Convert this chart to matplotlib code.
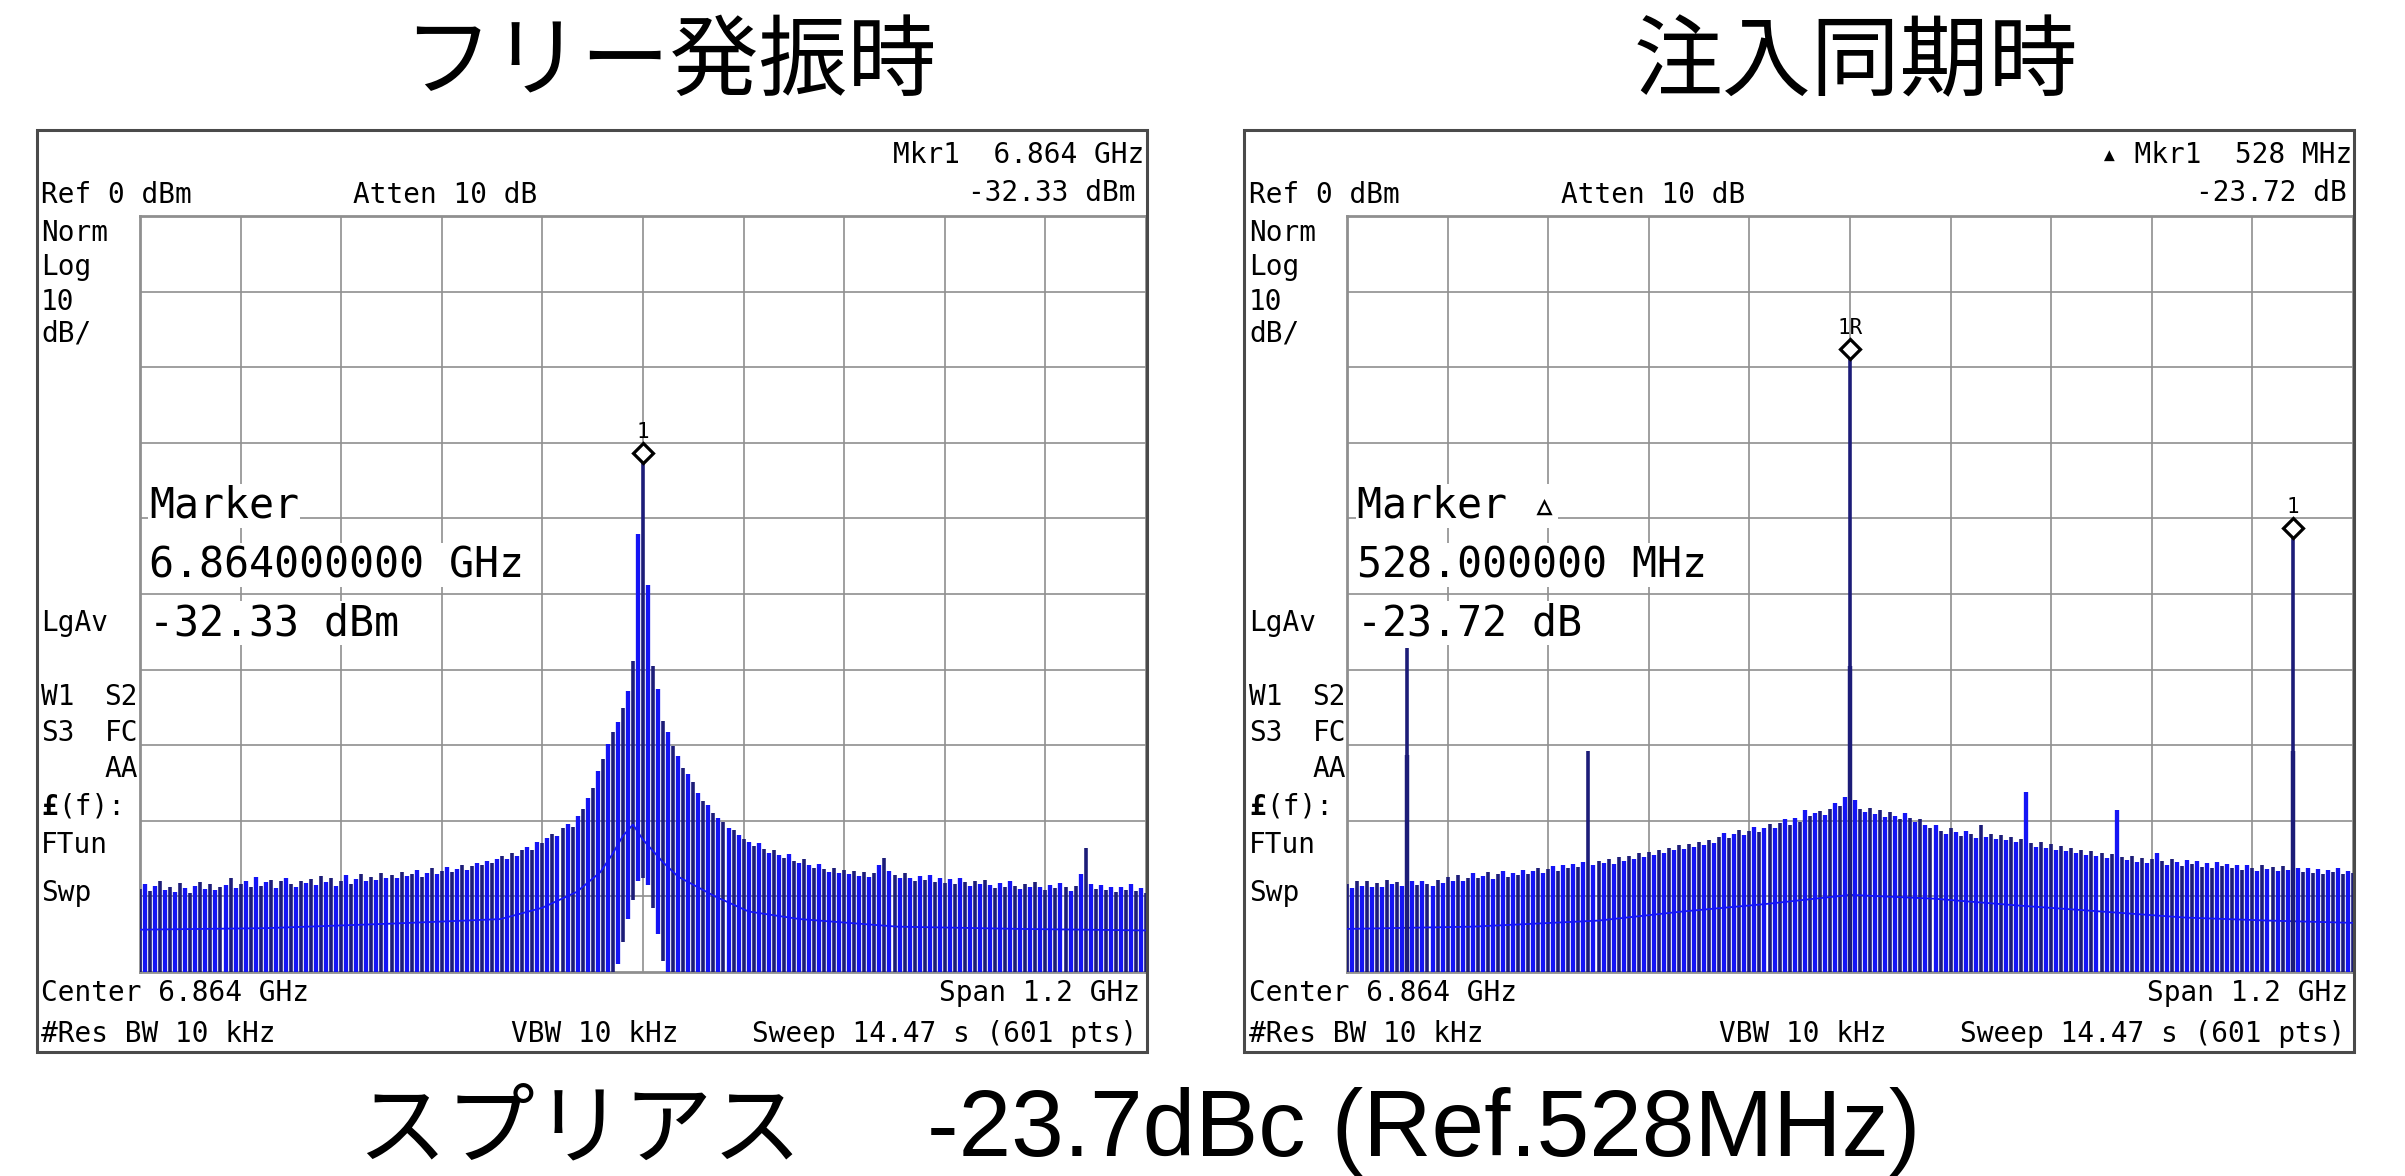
import numpy as np
import matplotlib
matplotlib.use("Agg")
import matplotlib.pyplot as plt
from matplotlib.patches import Rectangle
from matplotlib.transforms import ScaledTranslation

# ---------------- data ----------------
span_mhz = 1200          # Span 1.2 GHz, centre 6.864 GHz
n_bars = 201             # displayed sweep columns (offset -600 .. +600 MHz)
ref_dbm = 0
bottom_dbm = -100

# free-running oscillator: top of every sweep column (dBm)
free_top = [
    -89.0, -88.4, -89.3, -88.6, -87.9, -89.1, -88.7, -89.4, -88.2, -88.9, -89.5, -88.6, -88.1, -89.0, -88.4, -89.2, -88.7,
    -88.5, -87.6, -88.9, -88.3, -87.9, -88.8, -87.4, -88.6, -88.1, -87.8, -88.9, -88.0, -87.5, -88.4, -88.7, -87.9, -88.2,
    -87.7, -88.5, -87.3, -88.1, -87.6, -88.6, -87.9, -87.2, -88.3, -87.7, -87.1, -88.0, -87.4, -87.8, -86.9, -87.5, -87.2,
    -87.6, -86.8, -87.3, -87.0, -86.5, -87.4, -86.9, -86.3, -87.0, -86.6, -86.1, -86.8, -86.4, -85.9, -86.5, -86.0, -85.6,
    -85.8, -85.3, -85.6, -85.0, -84.7, -85.1, -84.2, -84.6, -83.8, -83.4, -83.9, -82.8, -83.0,
    -82.3, -81.7, -82.0, -81.0, -80.4, -80.8, -79.3, -78.5, -77.0, -75.6, -73.4, -71.8, -69.9, -68.2, -66.9, -65.1, -62.8, -58.9, -42.0, -32.33,
    -48.8, -59.5, -62.5, -66.8, -68.3, -70.1, -71.4, -73.0, -73.8, -74.9, -76.3, -77.4, -77.9, -79.0, -79.6, -80.2, -80.9, -81.2, -81.9, -82.4,
    -82.8, -83.3, -82.9, -83.7, -84.2, -83.8, -84.5, -84.9, -84.4, -85.3, -85.6, -85.1, -85.9, -86.2, -85.7, -86.4, -86.8, -86.2, -86.9, -86.5,
    -87.1, -86.6, -87.3, -86.8, -87.4, -86.9, -85.9, -84.9, -86.7, -87.2, -87.6, -86.9, -87.5, -88.0, -87.3, -87.8, -87.2, -88.1, -87.6, -88.2,
    -87.7, -88.3, -87.5, -88.1, -88.6, -87.9, -88.4, -87.8, -88.5, -88.9, -88.2, -88.7, -88.0, -88.6, -89.0, -88.3, -88.8, -88.1, -88.7, -89.2,
    -88.5, -88.9, -88.2, -88.8, -89.3, -88.6, -87.0, -83.6, -88.4, -89.0, -88.5, -89.2, -88.7, -89.4, -88.8, -89.1, -88.4, -89.3, -88.9, -89.5,
]
# lower end of every column (below screen = -100); near the carrier it lifts
free_bottom = [-100] * 95 + [-99, -96, -93, -90.5, -88, -87.5, -88.5, -91.5, -95, -98.5] + [-100] * 96
# lower trace envelope
free_low_mhz = [-600, -450, -300, -170, -120, -79, -51, -37, -24, -12, 0, 12, 24, 42, 86, 126, 187, 303, 450, 600]
free_low_dbm = [-94.4, -94.2, -93.6, -93.0, -91.5, -89.4, -86.8, -84.5, -82.0, -80.5, -82.5, -84.0, -85.5, -87.4, -90.0, -92.0, -93.0, -94.0, -94.3, -94.5]
free_marker = (0, -32.33)

# injection locked
lock_top = [
    -88.3, -88.9, -88.0, -88.6, -87.9, -88.7, -88.2, -88.8, -87.8, -88.4, -88.1, -88.6, -57.2, -88.0, -88.5, -87.9, -88.3,
    -88.6, -87.8, -88.2, -87.4, -87.9, -87.2, -88.0, -87.5, -86.9, -87.6, -87.3, -86.8, -87.7, -87.1, -86.6, -87.4, -86.9,
    -87.2, -86.5, -87.0, -86.7, -86.2, -86.9, -86.4, -86.0, -86.6, -85.9, -86.3, -85.7, -86.1, -85.5, -70.8, -85.9, -85.3,
    -85.6, -85.1, -85.7, -84.8, -85.3, -84.6, -85.0, -84.3, -84.8, -84.1, -84.5, -83.8, -84.3, -83.6, -83.9, -83.2, -83.7,
    -83.1, -83.5, -82.8, -83.2, -82.5, -82.9, -82.2, -81.6, -82.3, -81.8, -81.2, -81.9, -81.4, -80.8, -81.5, -80.9, -80.4,
    -81.0, -80.3, -79.8, -80.5, -79.6, -80.1, -78.6, -79.4, -79.0, -78.7, -79.2, -78.5, -77.6, -78.1, -76.9,
    -18.5,
    -77.2, -78.4, -78.9, -78.3, -79.1, -78.6, -79.5, -78.8, -79.3, -79.8, -79.0, -79.6, -80.2, -79.7, -80.5,
    -81.0, -80.6, -81.3, -81.7, -80.9, -81.5, -82.0, -81.4, -81.8, -82.3, -80.6, -82.1, -81.7, -82.4, -81.9, -82.6, -82.2, -82.8, -82.4,
    -76.2,
    -82.9, -83.4, -82.8, -83.6, -83.1, -83.9, -83.3, -84.0, -83.6, -84.2, -83.8, -84.5, -84.0, -84.7, -84.2, -84.9, -84.4,
    -78.6,
    -84.8, -85.2, -84.6, -85.4, -84.9, -85.6, -85.1, -84.3, -85.3, -85.8, -85.0, -85.5, -86.0, -85.2, -85.7, -85.3, -86.1,
    -85.6, -86.2, -85.4, -86.0, -85.7, -86.3, -85.8, -86.5, -85.9, -86.2, -86.6, -85.8, -86.4, -86.1, -86.7, -86.0, -86.5,
    -42.2,
    -86.2, -86.8, -86.3, -86.9, -86.4, -87.0, -86.5, -86.8, -86.2, -87.1, -86.6, -86.9,
]
lock_bottom = [-100] * 201
lock_low_mhz = [-600, -450, -300, -200, -100, 0, 100, 200, 300, 400, 500, 600]
lock_low_dbm = [-94.3, -94.0, -93.2, -92.0, -91.0, -89.8, -90.3, -91.2, -92.0, -92.8, -93.2, -93.5]
lock_spur_mhz = [-528, 0, 528]
lock_spur_shoulder = [-71.3, -59.5, -70.8]
lock_ref_marker = (0, -18.5)
lock_delta_marker = (528, -42.2)

# ---------------- figure ----------------
W, H, DPI = 2405, 1176, 100
fig = plt.figure(figsize=(W / DPI, H / DPI), dpi=DPI)
fig.patch.set_facecolor('white')

MONO = ['DejaVu Sans Mono', 'DejaVu Sans']
JP = ['Noto Sans CJK JP', 'DejaVu Sans']
LAT = ['Liberation Sans', 'DejaVu Sans']
NAVY = '#1c1c78'
BLUE = '#1414f5'
GRID = '#8f8f8f'


def fx(x):
    return x / W


def fy(y):
    return 1 - y / H


def txt(x, y, s, size=20, ha='left', va='center', family=MONO, **kw):
    fig.text(fx(x), fy(y), s, fontsize=size, ha=ha, va=va, family=family, **kw)


def draw_panel(x0, top, bottom, low_x, low_y):
    # outer instrument frame
    fig.patches.append(Rectangle((fx(x0), fy(1052)), 1110 / W, 922 / H,
                                 transform=fig.transFigure, fill=False,
                                 ec='#4a4a4a', lw=2.2, zorder=0))
    ax = fig.add_axes([fx(x0 + 103), fy(972), 1006 / W, 756 / H])
    ax.set_xlim(-span_mhz / 2, span_mhz / 2)
    ax.set_ylim(bottom_dbm, ref_dbm)
    ax.set_xticks([])
    ax.set_yticks([])
    for sp in ax.spines.values():
        sp.set_color(GRID)
        sp.set_linewidth(2.0)
    for k in range(1, 10):
        ax.axvline(-span_mhz / 2 + k * span_mhz / 10, color=GRID, lw=1.2, zorder=1)
        ax.axhline(ref_dbm - 10 * k, color=GRID, lw=1.2, zorder=1)
    x = np.linspace(-span_mhz / 2, span_mhz / 2, n_bars)
    top = np.asarray(top)
    bottom = np.asarray(bottom)
    ax.vlines(x[0::2], bottom[0::2], top[0::2], colors=NAVY, lw=2.6, zorder=3)
    ax.vlines(x[1::2], bottom[1::2], top[1::2], colors=BLUE, lw=3.1, zorder=3)
    ax.plot(low_x, low_y, color=BLUE, lw=1.3, zorder=4)
    return ax


def marker(ax, pos, label):
    up = ax.transData + ScaledTranslation(0, 5 / 72, fig.dpi_scale_trans)
    ax.plot(*pos, marker='D', ms=10.5, mfc='white', mec='black', mew=2.3, zorder=7,
            clip_on=False, transform=up)
    ax.annotate(label, pos, xytext=(0, 13), textcoords='offset points', ha='center',
                va='bottom', fontsize=15, family=MONO, zorder=7)


# ----- left panel: free running -----
axL = draw_panel(37, free_top, free_bottom, free_low_mhz, free_low_dbm)
marker(axL, free_marker, '1')

# ----- right panel: injection locked -----
axR = draw_panel(1244, lock_top, lock_bottom, lock_low_mhz, lock_low_dbm)
axR.vlines(lock_spur_mhz, bottom_dbm, lock_spur_shoulder, colors=NAVY, lw=3.2, zorder=5)
marker(axR, lock_ref_marker, '1R')
marker(axR, lock_delta_marker, '1')

# ----- instrument annotations -----
for dx, mk1, mk2, m1, m2, m3 in [
    (0, 'Mkr1  6.864 GHz', '-32.33 dBm', 'Marker', '6.864000000 GHz', '-32.33 dBm'),
    (1208, '\u25b4 Mkr1  528 MHz', '-23.72 dB', 'Marker \u25b5', '528.000000 MHz', '-23.72 dB'),
]:
    txt(1144 + dx, 155, mk1, ha='right')
    txt(1135 + dx + (4 if dx else 0), 193, mk2, ha='right')
    txt(41 + dx, 195, 'Ref 0 dBm')
    txt(353 + dx, 195, 'Atten 10 dB')
    for s, y in [('Norm', 233), ('Log', 267), ('10', 302), ('dB/', 334), ('LgAv', 623),
                 ('W1', 697), ('S3', 733), ('FTun', 845), ('Swp', 893)]:
        txt(41 + dx, y, s)
    txt(138 + dx, 697, 'S2', ha='right')
    txt(138 + dx, 733, 'FC', ha='right')
    txt(138 + dx, 769, 'AA', ha='right')
    txt(41 + dx, 807, '\u00a3', weight='bold')
    txt(58 + dx, 807, '(f):')
    txt(41 + dx, 993, 'Center 6.864 GHz')
    txt(1140 + dx, 993, 'Span 1.2 GHz', ha='right')
    txt(41 + dx, 1034, '#Res BW 10 kHz')
    txt(511 + dx, 1034, 'VBW 10 kHz')
    txt(1137 + dx, 1034, 'Sweep 14.47 s (601 pts)', ha='right')
    bb = dict(facecolor='white', edgecolor='none', pad=1)
    txt(149 + dx, 506, m1, size=30, bbox=bb, zorder=8)
    txt(149 + dx, 565, m2, size=30, bbox=bb, zorder=8)
    txt(149 + dx, 623, m3, size=30, bbox=bb, zorder=8)

# ----- titles -----
txt(670, 64, 'フリー発振時', size=64, ha='center', family=JP)
txt(1856, 64, '注入同期時', size=64, ha='center', family=JP)
txt(579, 1131, 'スプリアス', size=64, ha='center', family=JP)
txt(927, 1131, '-23.7dBc (Ref.528MHz)', size=68, ha='left', family=LAT)

fig.savefig('out.png', dpi=DPI, facecolor='white')
